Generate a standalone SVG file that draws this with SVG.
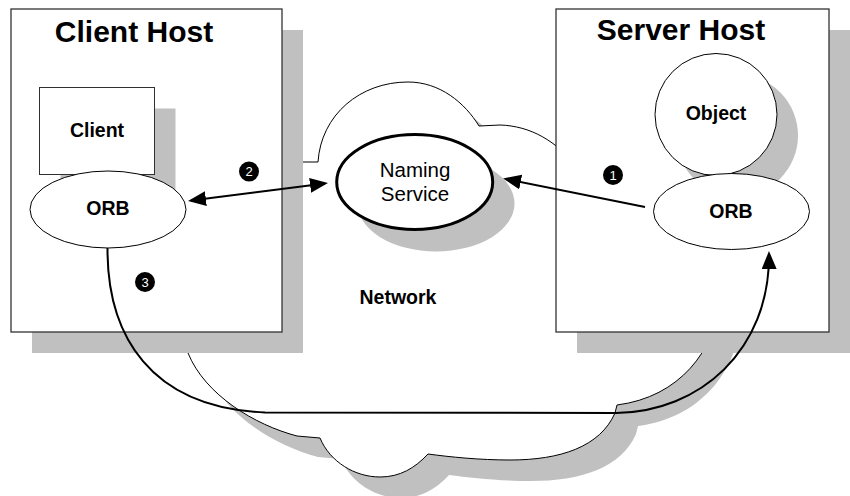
<svg xmlns="http://www.w3.org/2000/svg" width="850" height="496" viewBox="0 0 850 496">
  <style>
    .shadow { fill: #c0c0c0; stroke: none; }
    .host { fill: #ffffff; stroke: #333333; stroke-width: 1.3; }
    .box { fill: #ffffff; stroke: #303030; stroke-width: 1; }
    .shape { fill: #ffffff; stroke: #000000; stroke-width: 1; }
    .cloud { fill: #ffffff; stroke: #000000; stroke-width: 1; }
    .title { font-family: "Liberation Sans", Arial, sans-serif; font-weight: bold; font-size: 30px; fill: #000; text-anchor: middle; }
    .label { font-family: "Liberation Sans", Arial, sans-serif; font-weight: bold; font-size: 19.5px; fill: #000; text-anchor: middle; }
    .plain { font-family: "Liberation Sans", Arial, sans-serif; font-size: 20.5px; fill: #000; text-anchor: middle; }
    .badge { fill: #000; }
    .badge-text { font-family: "Liberation Sans", Arial, sans-serif; font-size: 13px; fill: #fff; text-anchor: middle; }
    .conn { fill: none; stroke: #000; stroke-width: 2; }
  </style>
  <defs>
    <marker id="head" markerUnits="userSpaceOnUse" markerWidth="20" markerHeight="16" viewBox="0 0 20 16" refX="15" refY="7.5" orient="auto-start-reverse">
      <path d="M0,0 L18,7.5 L0,15 z" fill="#000"/>
    </marker>
    <path id="cloudShape" d="M300,162 L318,162 C321,115 360,82 408,82 C440,82 465,103 479,126 L500,125 C530,126 556,140 580,170 L720,300 C715,350 680,397 617,405 L615,413 C600,447 560,460 510,460 C480,460 450,457 428,454 C415,468 400,477 380,477 C355,477 330,462 320,438 L297,436 C255,425 205,395 188,353 C170,320 150,300 150,250 L150,180 L250,162 Z"/>
  </defs>

  <!-- network cloud -->
  <g id="network">
    <use href="#cloudShape" class="shadow" transform="translate(21,21)"/>
    <use href="#cloudShape" class="cloud"/>
    <text class="label" x="398" y="304" font-size="20">Network</text>
  </g>

  <!-- client host -->
  <g id="client-host">
    <rect class="shadow" x="32" y="30" width="271" height="323"/>
    <rect class="host" x="11" y="9" width="271" height="323"/>
    <text class="title" x="134" y="41.5">Client Host</text>
  </g>

  <g id="client">
    <rect class="shadow" x="60.5" y="108.5" width="115" height="87"/>
    <rect class="box" x="39.5" y="87.5" width="115" height="87"/>
    <text class="label" x="97" y="137" font-size="20">Client</text>
  </g>

  <g id="client-orb">
    <ellipse class="shape" cx="108" cy="209.5" rx="78" ry="38.5"/>
    <text class="label" x="108" y="215">ORB</text>
  </g>

  <!-- server host -->
  <g id="server-host">
    <rect class="shadow" x="577" y="30" width="273" height="323"/>
    <rect class="host" x="556" y="9" width="273" height="323"/>
    <text class="title" x="681" y="40">Server Host</text>
  </g>

  <g id="object">
    <circle class="shadow" cx="737" cy="135.5" r="61"/>
    <circle class="shape" cx="716" cy="114.5" r="61"/>
    <text class="label" x="716" y="120" font-size="20">Object</text>
  </g>

  <g id="server-orb">
    <ellipse class="shape" cx="731.5" cy="211.5" rx="78" ry="38"/>
    <text class="label" x="731" y="217.5">ORB</text>
  </g>

  <!-- naming service -->
  <g id="naming-service">
    <ellipse class="shadow" cx="436" cy="203.5" rx="78.5" ry="48"/>
    <ellipse cx="414.7" cy="182" rx="78" ry="47.5" fill="#fff" stroke="#000" stroke-width="3"/>
    <text class="plain" x="415" y="176.5">Naming</text>
    <text class="plain" x="415" y="200.5">Service</text>
  </g>

  <!-- connectors -->
  <g id="connectors">
    <path class="conn" d="M191,200.5 L325,183.5" marker-start="url(#head)" marker-end="url(#head)"/>
    <path class="conn" d="M645,207 L506,179" marker-end="url(#head)"/>
    <path class="conn" d="M107.5,248 C107,335 150,408 265,412.5 L616,413 C700,412 770,350 769,254" marker-end="url(#head)"/>
  </g>

  <!-- step badges -->
  <g id="badge-1">
    <circle class="badge" cx="613" cy="175" r="10"/>
    <text class="badge-text" x="613" y="179.7">1</text>
  </g>
  <g id="badge-2">
    <circle class="badge" cx="249" cy="171.5" r="10"/>
    <text class="badge-text" x="249" y="176.2">2</text>
  </g>
  <g id="badge-3">
    <circle class="badge" cx="145" cy="282" r="10"/>
    <text class="badge-text" x="145" y="286.7">3</text>
  </g>
</svg>
